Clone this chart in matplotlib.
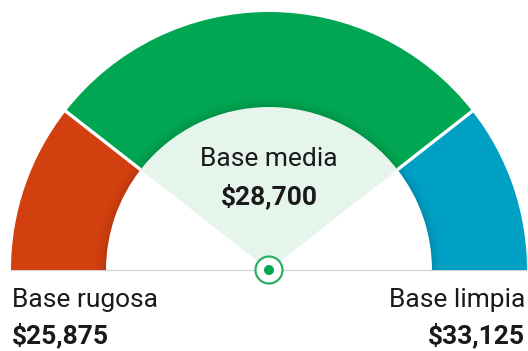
import numpy as np
import matplotlib.pyplot as plt
from matplotlib.patches import Wedge, Circle

# gauge bands, left to right
band_labels = ['Base rugosa', 'Base media', 'Base limpia']
band_values = [25875, 28700, 33125]
band_degrees = [38, 104, 38]
band_colors = ['#D2400F', '#00A651', '#00A0C4']

plt.rcParams['font.family'] = ['Roboto', 'DejaVu Sans']

fig = plt.figure(figsize=(5.28, 3.51), dpi=100)
ax = fig.add_axes([0, 0, 1, 1])
ax.set_xlim(-269, 259)
ax.set_ylim(-81, 270)
ax.set_aspect('equal')
ax.axis('off')

R_OUT, R_IN = 258, 163

# thin baseline under the gauge
ax.plot([-258, 258], [0, 0], color='#d4d4d4', lw=0.9, zorder=1)

# coloured bands, drawn from the left end (180 deg) clockwise
edges = 180 - np.concatenate([[0], np.cumsum(band_degrees)])
for i, c in enumerate(band_colors):
    ax.add_patch(Wedge((0, 0), R_OUT, edges[i + 1], edges[i],
                       width=R_OUT - R_IN, facecolor=c, lw=0, zorder=2))

# soft inner shadow along the inner edge
for k in range(12):
    ax.add_patch(Wedge((0, 0), R_IN + k + 1, 0, 180, width=1,
                       facecolor='black', alpha=0.11 * (1 - k / 12) ** 2,
                       lw=0, zorder=3))

# white separators between bands
for a in edges[1:-1]:
    t = np.radians(a)
    ax.plot([R_IN * np.cos(t), (R_OUT + 2) * np.cos(t)],
            [R_IN * np.sin(t), (R_OUT + 2) * np.sin(t)],
            color='white', lw=2.4, solid_capstyle='butt', zorder=4)

# highlight fan for the middle band
ax.add_patch(Wedge((0, 0), R_IN, edges[2], edges[1],
                   facecolor='#E5F5EC', lw=0, zorder=1.5))

# centre marker
ax.add_patch(Circle((0, 0), 13.5, facecolor='white', edgecolor='#2BAE66',
                    lw=1.6, zorder=5))
ax.add_patch(Circle((0, 0), 5, facecolor='#00A651', lw=0, zorder=6))

txt = '#1a1a1a'
fs = 19
ax.text(0, 104, band_labels[1], ha='center', va='baseline', fontsize=fs, color=txt)
ax.text(0, 66, f'${band_values[1]:,}', ha='center', va='baseline', fontsize=fs,
        fontweight='bold', color=txt)

ax.text(-257, -37, band_labels[0], ha='left', va='baseline', fontsize=fs, color=txt)
ax.text(-257, -73, f'${band_values[0]:,}', ha='left', va='baseline', fontsize=fs,
        fontweight='bold', color=txt)

ax.text(256, -37, band_labels[2], ha='right', va='baseline', fontsize=fs, color=txt)
ax.text(256, -73, f'${band_values[2]:,}', ha='right', va='baseline', fontsize=fs,
        fontweight='bold', color=txt)

fig.savefig('out.png', dpi=100, facecolor='white')
